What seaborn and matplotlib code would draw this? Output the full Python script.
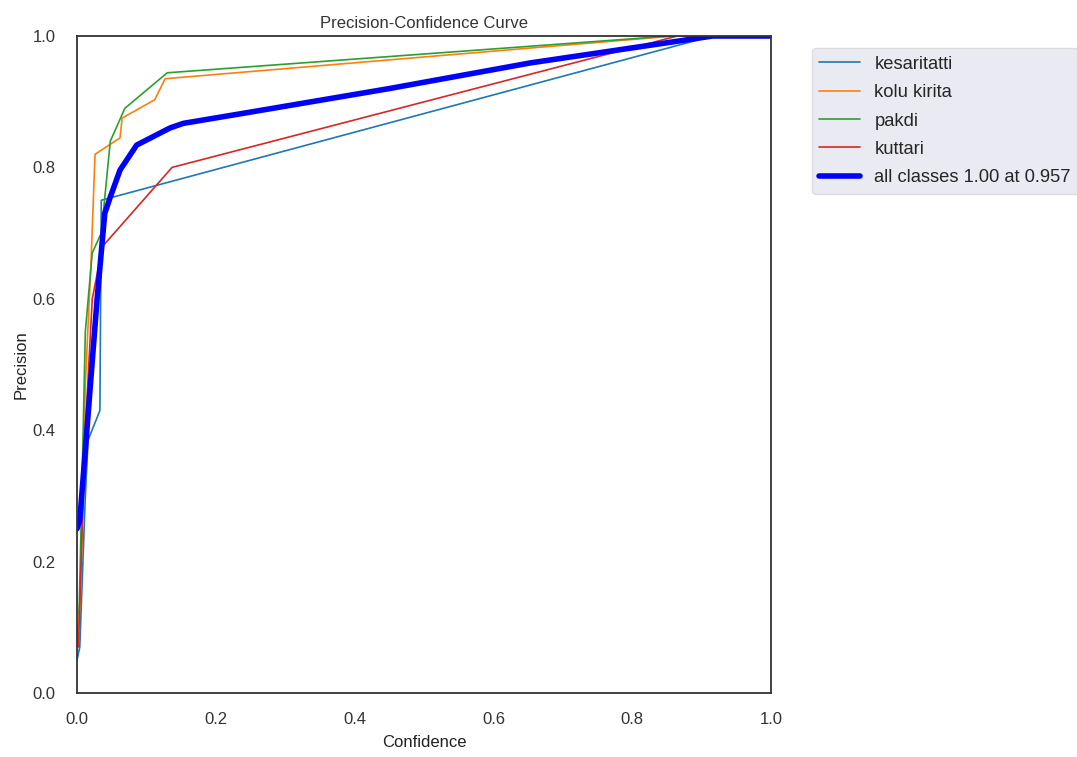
import pandas as pd
import seaborn as sns
import matplotlib.pyplot as plt

# Values
kesaritatti_x = [0.0, 0.004, 0.012, 0.016, 0.033, 0.035, 0.916, 1.0]
kesaritatti_y = [0.05, 0.07, 0.30, 0.385, 0.43, 0.75, 1.0, 1.0]

kolu_x = [0.0, 0.005, 0.012, 0.02, 0.026, 0.062, 0.065, 0.112, 0.127, 0.86, 1.0]
kolu_y = [0.08, 0.15, 0.47, 0.65, 0.82, 0.845, 0.875, 0.903, 0.935, 1.0, 1.0]

pakdi_x = [0.003, 0.006, 0.012, 0.022, 0.035, 0.048, 0.069, 0.13, 0.855, 1.0]
pakdi_y = [0.12, 0.26, 0.55, 0.67, 0.70, 0.84, 0.89, 0.944, 1.0, 1.0]

kuttari_x = [0.002, 0.006, 0.012, 0.022, 0.037, 0.137, 0.865, 1.0]
kuttari_y = [0.07, 0.20, 0.40, 0.60, 0.68, 0.80, 1.0, 1.0]

all_x = [0.0, 0.004, 0.012, 0.029, 0.04, 0.048, 0.062, 0.086, 0.134, 0.153, 0.249, 0.45, 0.653, 0.916, 1.0]
all_y = [0.25, 0.263, 0.37, 0.60, 0.73, 0.755, 0.796, 0.834, 0.86, 0.867, 0.884, 0.92, 0.959, 1.0, 1.0]

classes = ['kesaritatti', 'kolu kirita', 'pakdi', 'kuttari']
xs = [kesaritatti_x, kolu_x, pakdi_x, kuttari_x]
ys = [kesaritatti_y, kolu_y, pakdi_y, kuttari_y]
colors = sns.color_palette('tab10', 4)

sns.set_style('white')
plt.rcParams['font.family'] = ['Liberation Sans', 'DejaVu Sans']

fig = plt.figure(figsize=(10.77, 7.57), dpi=100)
ax = fig.add_axes([77 / 1077, 1 - 693 / 757, 694 / 1077, 657 / 757])

for name, x, y, c in zip(classes, xs, ys, colors):
    sns.lineplot(x=x, y=y, ax=ax, label=name, color=c, linewidth=1.2, sort=False)

sns.lineplot(x=all_x, y=all_y, ax=ax, label='all classes 1.00 at 0.957',
             color='blue', linewidth=4, sort=False)

ax.set_xlim(0, 1)
ax.set_ylim(0, 1)
ax.set_xticks([0, 0.2, 0.4, 0.6, 0.8, 1.0])
ax.set_yticks([0, 0.2, 0.4, 0.6, 0.8, 1.0])
ax.tick_params(axis='x', labelsize=12, colors='#333333', pad=10)
ax.tick_params(axis='y', labelsize=12, colors='#333333', pad=12)
ax.set_xlabel('Confidence', fontsize=12, color='#222222', labelpad=6)
ax.set_ylabel('Precision', fontsize=12, color='#222222', labelpad=3)
ax.set_title('Precision-Confidence Curve', fontsize=12, color='#333333', pad=6)
for s in ax.spines.values():
    s.set_color('#333333')
    s.set_linewidth(1.3)

leg = ax.legend(bbox_to_anchor=(1.046, 0.995), loc='upper left', fontsize=13.2,
                frameon=True, facecolor='#eaeaf2', edgecolor='#dddddd',
                labelspacing=0.62, handlelength=2.2)
leg.get_frame().set_alpha(1)

fig.savefig('out.png', dpi=100)
